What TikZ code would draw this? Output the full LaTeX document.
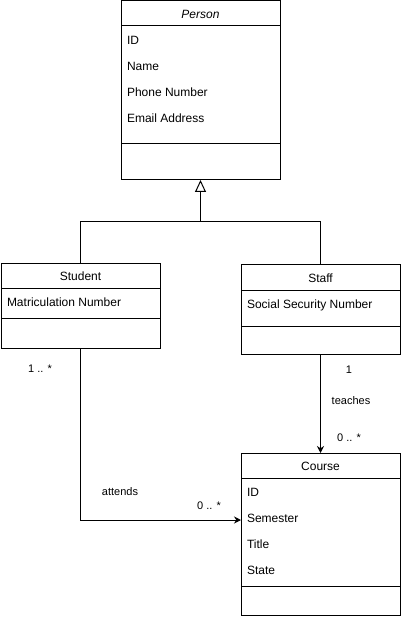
\documentclass[tikz,border=0pt]{standalone}
\usepackage{fontspec}
\setmainfont{Liberation Sans}
\usetikzlibrary{arrows.meta}
\begin{document}
\begin{tikzpicture}[x=1pt,y=-1pt,line width=1pt,
  classbox/.style={draw=black,fill=white,rectangle,anchor=north west,inner sep=0pt,outer sep=0pt},
  title/.style={font=\fontsize{12}{14}\selectfont,text height=9pt,text depth=2.5pt,inner sep=0pt},
  attr/.style={font=\fontsize{12}{14}\selectfont,anchor=west,text height=9pt,text depth=2.5pt,inner sep=0pt},
  elabel/.style={font=\fontsize{11}{13}\selectfont,text height=8pt,text depth=2pt,inner sep=0pt},
  assoc/.style={-{Stealth[length=7pt,width=7pt]}},
  gen/.style={-{Triangle[open,length=12pt,width=11pt,fill=white]}}]
\useasboundingbox (0,0) rectangle (401,617);
% Person
\node[classbox,minimum width=159pt,minimum height=179pt] (person) at (121,1) {};
\draw (121,26) -- (280,26);
\draw (121,144) -- (280,144);
\node[title] (persont) at (200.5,15) {\itshape Person};
\node[attr] (p1) at (126.5,41) {ID};
\node[attr] (p2) at (126.5,67) {Name};
\node[attr] (p3) at (126.5,93) {Phone Number};
\node[attr] (p4) at (126.5,119) {Email Address};
% Student
\node[classbox,minimum width=159pt,minimum height=85pt] (student) at (1,263) {};
\draw (1,288) -- (160,288);
\draw (1,318) -- (160,318);
\node[title] (studentt) at (80.5,277) {Student};
\node[attr] (s1) at (6.5,303) {Matriculation Number};
% Staff
\node[classbox,minimum width=159pt,minimum height=90pt] (staff) at (241,264) {};
\draw (241,290) -- (400,290);
\draw (241,326) -- (400,326);
\node[title] (stafft) at (320.5,279) {Staff};
\node[attr] (f1) at (246.5,305) {Social Security Number};
% Course
\node[classbox,minimum width=159pt,minimum height=162pt] (course) at (241,453) {};
\draw (241,478) -- (400,478);
\draw (241,586) -- (400,586);
\node[title] (courset) at (320.5,467) {Course};
\node[attr] (c1) at (246.5,493) {ID};
\node[attr] (c2) at (246.5,519) {Semester};
\node[attr] (c3) at (246.5,545) {Title};
\node[attr] (c4) at (246.5,571) {State};
% Generalization
\coordinate (jn) at (200.5,222);
\draw[gen] (student.north) |- (jn) -- (person.south);
\draw (staff.north) |- (jn);
% Associations
\coordinate (cin) at (241,520);
\draw[assoc] (student.south) |- (cin);
\draw[assoc] (staff.south) -- (course.north);
% Labels
\node[elabel] (l1) at (40,369) {1 .. *};
\node[elabel] (l2) at (349,370) {1};
\node[elabel] (l3) at (351,401) {teaches};
\node[elabel] (l4) at (349,438) {0 .. *};
\node[elabel] (l5) at (120,492) {attends};
\node[elabel] (l6) at (209,506) {0 .. *};
\end{tikzpicture}
\end{document}
